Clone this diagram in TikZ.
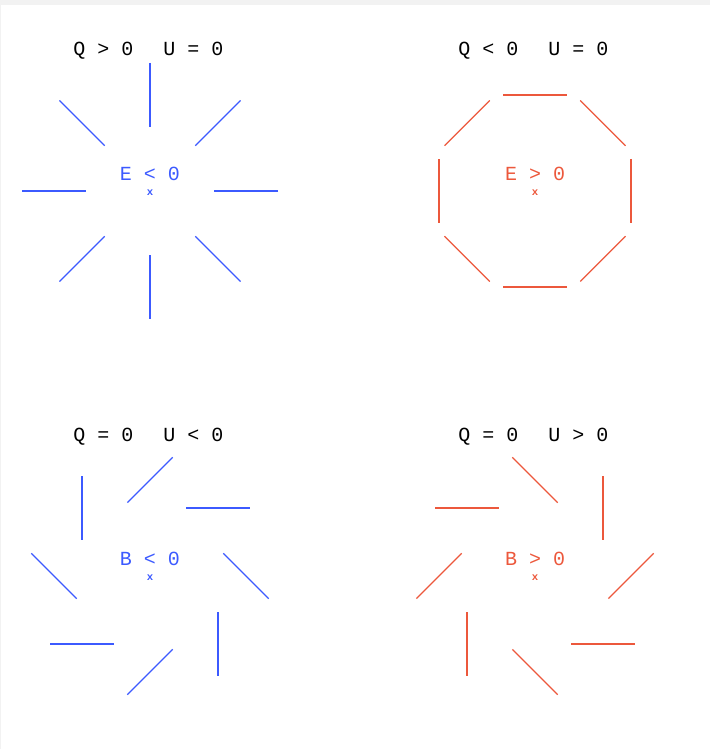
\documentclass[tikz,border=0pt]{standalone}
\usepackage{fontspec}
\setmonofont{Liberation Mono}
\usetikzlibrary{calc}
\definecolor{myblue}{RGB}{60,90,255}
\definecolor{myred}{RGB}{236,88,60}
\definecolor{mygray}{RGB}{242,242,242}
\tikzset{
  seg/.style={line width=0.95pt},
  lbl/.style={font=\fontsize{15}{18}\selectfont\ttfamily, inner sep=0pt, anchor=base},
  qlbl/.style={lbl, anchor=base west, text=black},
  ctrdot/.style={font=\fontsize{8}{8}\selectfont\ttfamily\bfseries, inner sep=0pt}
}
\begin{document}
\begin{tikzpicture}[x=0.75pt, y=0.75pt]
  % canvas, grey top band and left rule
  \useasboundingbox (0,0) rectangle (710,749);
  \fill[mygray] (0,744) rectangle (710,749);
  \fill[mygray] (0,0) rectangle (1.2,744);

  % panel centres
  \coordinate (eneg) at (150,558);
  \coordinate (epos) at (535,558);
  \coordinate (bneg) at (150,173);
  \coordinate (bpos) at (535,173);

  % eight segments round each centre, turned by \rot from the radius
  \foreach \c/\rot/\col in {eneg/0/myblue, epos/90/myred, bneg/-45/myblue, bpos/45/myred} {
    \foreach \p in {0,45,...,315} {
      \draw[seg, \col] ($(\c)+(\p:96)+(\p+\rot:32)$) -- ($(\c)+(\p:96)+(\p+\rot+180:32)$);
    }
    \node[ctrdot, text=\col] (\c-dot) at ($(\c)+(0,-1.5)$) {x};
  }

  % field values
  \node[lbl, text=myblue] (eneg-val) at ($(eneg)+(0,10)$) {E < 0};
  \node[lbl, text=myred]  (epos-val) at ($(epos)+(0,10)$) {E > 0};
  \node[lbl, text=myblue] (bneg-val) at ($(bneg)+(0,10)$) {B < 0};
  \node[lbl, text=myred]  (bpos-val) at ($(bpos)+(0,10)$) {B > 0};

  % charge and current labels
  \node[qlbl] (eneg-q) at ($(eneg)+(-77,135)$) {Q > 0};
  \node[qlbl] (eneg-u) at ($(eneg)+(13,135)$) {U = 0};
  \node[qlbl] (epos-q) at ($(epos)+(-77,135)$) {Q < 0};
  \node[qlbl] (epos-u) at ($(epos)+(13,135)$) {U = 0};
  \node[qlbl] (bneg-q) at ($(bneg)+(-77,134)$) {Q = 0};
  \node[qlbl] (bneg-u) at ($(bneg)+(13,134)$) {U < 0};
  \node[qlbl] (bpos-q) at ($(bpos)+(-77,134)$) {Q = 0};
  \node[qlbl] (bpos-u) at ($(bpos)+(13,134)$) {U > 0};
\end{tikzpicture}
\end{document}
